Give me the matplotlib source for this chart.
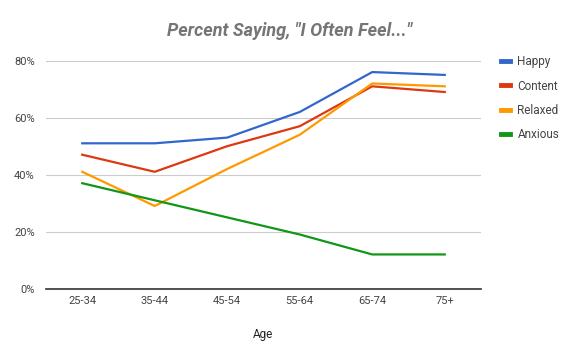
import matplotlib.pyplot as plt

ages = ["25-34", "35-44", "45-54", "55-64", "65-74", "75+"]
happy = [51, 51, 53, 62, 76, 75]
content = [47, 41, 50, 57, 71, 69]
relaxed = [41, 29, 42, 54, 72, 71]
anxious = [37, 31, 25, 19, 12, 12]

series = [("Happy", happy, "#3366cc"),
          ("Content", content, "#dc3912"),
          ("Relaxed", relaxed, "#ff9900"),
          ("Anxious", anxious, "#109618")]

plt.rcParams['font.family'] = ['Roboto', 'DejaVu Sans']

fig = plt.figure(figsize=(5.8, 3.59), dpi=100)
ax = fig.add_axes([0.0793, 0.196, 0.75, 0.635])

x = list(range(len(ages)))
for name, vals, col in series:
    ax.plot(x, vals, color=col, lw=1.6, label=name)

ax.set_xlim(-0.5, 5.5)
ax.set_ylim(0, 80)
ax.set_yticks([0, 20, 40, 60, 80])
ax.set_yticklabels(["0%", "20%", "40%", "60%", "80%"])
ax.set_xticks(x)
ax.set_xticklabels(ages)
ax.grid(axis='y', color='#cccccc', lw=0.8)
ax.set_axisbelow(True)
for s in ['top', 'right', 'left']:
    ax.spines[s].set_visible(False)
ax.spines['bottom'].set_color('#333333')
ax.spines['bottom'].set_linewidth(1.2)
ax.spines['bottom'].set_zorder(5)
ax.tick_params(axis='y', length=0, labelsize=8, colors='#444444', pad=8)
ax.tick_params(axis='x', length=0, labelsize=8, colors='#444444', pad=5)
ax.set_xlabel("Age", fontsize=8.5, color='#222222', labelpad=16)

fig.text(0.5, 0.915, 'Percent Saying, "I Often Feel..."', ha='center', va='center',
         fontsize=13, fontweight='bold', fontstyle='italic', color='#757575')

leg = ax.legend(loc='upper left', bbox_to_anchor=(1.035, 1.044), frameon=False,
                fontsize=8.5, handlelength=0.8, handleheight=0.7, labelspacing=0.95,
                handletextpad=0.6, borderaxespad=0)
for h in leg.get_lines():
    h.set_linewidth(3.5)
for t in leg.get_texts():
    t.set_color('#444444')

fig.savefig("out.png", dpi=100)
